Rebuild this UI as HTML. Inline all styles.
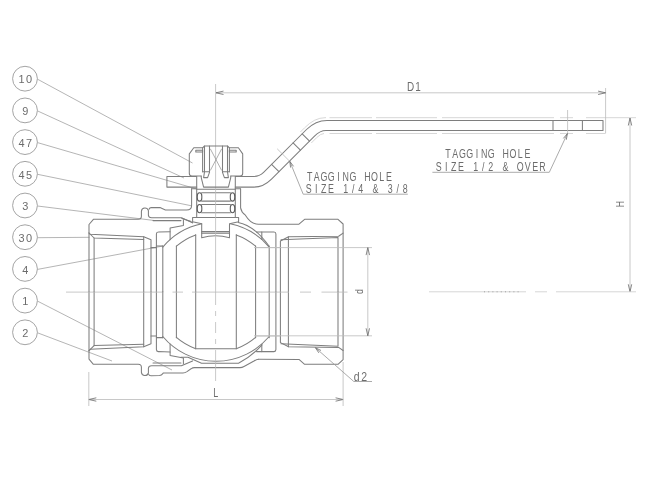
<!DOCTYPE html>
<html><head><meta charset="utf-8"><title>Ball valve drawing</title>
<style>
html,body{margin:0;padding:0;background:#fff;}
body{width:650px;height:485px;overflow:hidden;font-family:"Liberation Sans",sans-serif;}
svg{display:block;filter:grayscale(1);}
.m{fill:none;stroke:#7e7e7e;stroke-width:1.05;stroke-linejoin:round;stroke-linecap:round;}
.t{fill:none;stroke:#bababa;stroke-width:0.8;}
.f{fill:none;stroke:#d2d2d2;stroke-width:0.9;}
.a{fill:none;stroke:#6a6a6a;stroke-width:0.8;}
.d{fill:none;stroke:#7e7e7e;stroke-width:0.9;stroke-dasharray:2 1.2;}
.cl{fill:none;stroke:#a8a8a8;stroke-width:0.85;}
.l{fill:none;stroke:#9c9c9c;stroke-width:0.85;}
.t2{fill:none;stroke:#9a9a9a;stroke-width:0.8;}
.o{fill:none;stroke:#5e5e5e;stroke-width:1.1;}
.c{fill:none;stroke:#9a9a9a;stroke-width:0.9;}
.tx{fill:#6c6c6c;font-family:"Liberation Sans",sans-serif;}
</style></head><body>
<svg width="650" height="485" viewBox="0 0 650 485">
<rect width="650" height="485" fill="#fff"/>
<circle class="c" cx="25" cy="78.7" r="12.4"/>
<line class="cl" x1="37.5" y1="79.2" x2="192.5" y2="163"/>
<text class="tx" transform="translate(0 83.4) scale(0.96 1)" x="22.50 30.21" y="0" text-anchor="middle" font-size="11.4">10</text>
<circle class="c" cx="25" cy="110.4" r="12.4"/>
<line class="cl" x1="37.5" y1="110.9" x2="184" y2="178"/>
<text class="tx" transform="translate(0 115.1) scale(0.96 1)" x="26.35" y="0" text-anchor="middle" font-size="11.4">9</text>
<circle class="c" cx="25" cy="142.1" r="12.4"/>
<line class="cl" x1="37.5" y1="142.6" x2="196" y2="188.8"/>
<text class="tx" transform="translate(0 146.8) scale(0.96 1)" x="22.50 30.21" y="0" text-anchor="middle" font-size="11.4">47</text>
<circle class="c" cx="25" cy="173.8" r="12.4"/>
<line class="cl" x1="37.5" y1="174.3" x2="191" y2="205.7"/>
<text class="tx" transform="translate(0 178.5) scale(0.96 1)" x="22.50 30.21" y="0" text-anchor="middle" font-size="11.4">45</text>
<circle class="c" cx="25" cy="205.5" r="12.4"/>
<line class="cl" x1="37.5" y1="206.0" x2="155" y2="220.6"/>
<text class="tx" transform="translate(0 210.2) scale(0.96 1)" x="26.35" y="0" text-anchor="middle" font-size="11.4">3</text>
<circle class="c" cx="25" cy="237.2" r="12.4"/>
<line class="cl" x1="37.5" y1="237.7" x2="89.5" y2="237.3"/>
<text class="tx" transform="translate(0 241.9) scale(0.96 1)" x="22.50 30.21" y="0" text-anchor="middle" font-size="11.4">30</text>
<circle class="c" cx="25" cy="268.9" r="12.4"/>
<line class="cl" x1="37.5" y1="269.4" x2="163" y2="246"/>
<text class="tx" transform="translate(0 273.6) scale(0.96 1)" x="26.35" y="0" text-anchor="middle" font-size="11.4">4</text>
<circle class="c" cx="25" cy="300.6" r="12.4"/>
<line class="cl" x1="37.5" y1="301.1" x2="172" y2="370"/>
<text class="tx" transform="translate(0 305.3) scale(0.96 1)" x="26.35" y="0" text-anchor="middle" font-size="11.4">1</text>
<circle class="c" cx="25" cy="332.3" r="12.4"/>
<line class="cl" x1="37.5" y1="332.8" x2="112" y2="361"/>
<text class="tx" transform="translate(0 337.0) scale(0.96 1)" x="26.35" y="0" text-anchor="middle" font-size="11.4">2</text>
<path class="m" d="M89 291.8 L89 224.5 L93.4 219.3 L138.3 219.3 Q141.4 219.3 141.4 216.3 L141.4 211.2 A3.6 3.6 0 0 1 148.4 210.6 L148.4 215.3 Q148.6 217.8 151.6 217.8 L181.4 217.8 L192.6 222.7"/>
<path class="m" d="M89 291.8 L89 359.1 L93.4 364.3 L138.3 364.3 Q141.4 364.3 141.4 367.3 L141.4 372.4 A3.6 3.6 0 0 0 148.4 373.0 L148.4 368.3 Q148.6 365.8 151.6 365.8 L181.4 365.8 L192.6 360.9"/>
<path class="m" d="M149 209.2 Q149.6 207.6 151.2 207.6 L160 207.6 L165.4 209.9 L186.6 210.1 Q191.6 210.1 191.6 205.2 L191.6 188.8"/>
<path class="m" d="M148.6 374.2 Q149 375.8 151 375.8 L159.5 375.6 Q161.5 375.4 162.8 373.6 L163.4 372.9 L183 372.9 Q185 372.9 187 371.6 L191 368.8 Q192.6 367.6 194.6 367.6 L240 367.6 Q242 367.6 244 366.5 L254 361 Q256.5 359.4 258.4 359.3"/>
<path class="m" d="M153 220.6 L181 220.6"/>
<path class="m" d="M153 363.0 L181 363.0"/>
<path class="m" d="M183.4 219.8 L183.4 225.5 L170.1 228 L170.1 239.6"/>
<path class="m" d="M183.4 363.8 L183.4 358.1 L170.1 355.6 L170.1 344.0"/>
<path class="m" d="M170.1 231.7 L158.3 232 Q156.4 232 156.4 234 L156.4 291.8"/>
<path class="m" d="M170.1 351.9 L158.3 351.6 Q156.4 351.6 156.4 349.6 L156.4 291.8"/>
<path class="m" d="M89 233 L90.2 234.3 L143.7 236.8 L151 239.8 L151 291.8"/>
<path class="m" d="M89 350.6 L90.2 349.3 L143.7 346.8 L151 343.8 L151 291.8"/>
<path class="m" d="M89 233 L94.1 238 L143.7 239.4"/>
<path class="m" d="M89 350.6 L94.1 345.6 L143.7 344.2"/>
<path class="m" d="M94.1 291.8 L94.1 238"/>
<path class="m" d="M94.1 291.8 L94.1 345.6"/>
<path class="m" d="M143.7 291.8 L143.7 236.8"/>
<path class="m" d="M143.7 291.8 L143.7 346.8"/>
<path class="m" d="M151 247.6 L156.4 247.6"/>
<path class="m" d="M151 336.0 L156.4 336.0"/>
<path class="m" d="M156.4 246 L162.8 246"/>
<path class="m" d="M156.4 337.6 L162.8 337.6"/>
<path class="m" d="M162.8 291.8 L162.8 245.9"/>
<path class="m" d="M162.8 291.8 L162.8 337.7"/>
<path class="m" d="M176.4 291.8 L176.4 245.9"/>
<path class="m" d="M176.4 291.8 L176.4 337.7"/>
<path class="m" d="M195.7 291.8 L195.7 234.8"/>
<path class="m" d="M195.7 291.8 L195.7 348.8"/>
<path class="m" d="M236.3 291.8 L236.3 234.8"/>
<path class="m" d="M236.3 291.8 L236.3 348.8"/>
<path class="m" d="M255.6 291.8 L255.6 245.9"/>
<path class="m" d="M255.6 291.8 L255.6 337.7"/>
<path class="m" d="M269.2 291.8 L269.2 245.9"/>
<path class="m" d="M269.2 291.8 L269.2 337.7"/>
<path class="m" d="M275.9 291.8 L275.9 234 Q275.9 232 274 232 L256.5 232"/>
<path class="m" d="M275.9 291.8 L275.9 349.6 Q275.9 351.6 274 351.6 L256.5 351.6"/>
<path class="m" d="M162.8 247.08 A69.5 69.5 0 0 1 201.8 223.77"/>
<path class="m" d="M230.2 223.77 A69.5 69.5 0 0 1 269.2 247.08"/>
<path class="m" d="M162.8 336.52 A69.5 69.5 0 0 0 269.2 336.52"/>
<path class="m" d="M176.4 246.19 A60.4 60.4 0 0 1 195.7 234.91"/>
<path class="m" d="M236.3 234.91 A60.4 60.4 0 0 1 255.6 246.19"/>
<path class="m" d="M176.4 337.41 A60.4 60.4 0 0 0 195.7 348.69 L236.3 348.69 A60.4 60.4 0 0 0 255.6 337.41"/>
<path class="m" d="M238.2 222.4 Q254 225.3 268.8 245.8"/>
<path class="m" d="M181.9 218.2 L190.6 221.6 L192.6 222.7 M181.9 218.6 L190.6 221.2"/>
<path class="m" d="M181 357.2 L188 357.2 L201.5 363.2 L238.5 363.2 Q251 357 261.8 345.2"/>
<path class="m" d="M240.6 188.8 L240.6 207.8 Q241.3 212 245.4 215.2 Q251 224.3 258.4 224.3 L299 224.2 L304.6 219.3 L338 219.3 L343.1 224 L343.1 359.6 L338 364.3 L304.6 364.3 L299 359.4 L258.4 359.3"/>
<path class="m" d="M343.1 233.1 L338.6 236.2 L288.6 236.8 L280.4 241 L280.4 291.8"/>
<path class="m" d="M343.1 350.5 L338.6 347.4 L288.6 346.8 L280.4 342.6 L280.4 291.8"/>
<path class="m" d="M338 291.8 L338 237.4 L281 239.8"/>
<path class="m" d="M338 291.8 L338 346.2 L281 343.8"/>
<path class="m" d="M288.4 291.8 L288.4 236.8"/>
<path class="m" d="M288.4 291.8 L288.4 346.8"/>
<path class="m" d="M261.8 239.4 L261.8 232"/>
<path class="m" d="M261.8 344.2 L261.8 351.6"/>
<path class="t" d="M255 247.6 L280.4 247.6"/>
<path class="t" d="M255 336.0 L280.4 336.0"/>
<path class="m" d="M196.7 176.4 L196.7 217.4 M235.3 176.4 L235.3 217.4"/>
<line class="m" x1="196.7" y1="189.3" x2="235.3" y2="189.3"/>
<rect class="o" x="197.3" y="192.8" width="4.5" height="8.299999999999983" rx="2.2" ry="3.2"/>
<rect class="o" x="230.3" y="192.8" width="4.399999999999977" height="8.299999999999983" rx="2.2" ry="3.2"/>
<line class="m" x1="201.6" y1="192.8" x2="230.4" y2="192.8"/>
<line class="m" x1="201.6" y1="201.1" x2="230.4" y2="201.1"/>
<rect class="o" x="197.3" y="204.5" width="4.5" height="8.199999999999989" rx="2.2" ry="3.2"/>
<rect class="o" x="230.3" y="204.5" width="4.399999999999977" height="8.199999999999989" rx="2.2" ry="3.2"/>
<line class="m" x1="201.6" y1="204.5" x2="230.4" y2="204.5"/>
<line class="m" x1="201.6" y1="212.7" x2="230.4" y2="212.7"/>
<path class="m" d="M192.6 217.4 L238.6 217.4 L238.6 221.8 L229.5 223.8 L229.5 237.8 Q215.6 233.8 201.7 237.8 L201.7 223.8 L192.6 221.8 Z"/>
<line class="m" x1="201.7" y1="231.4" x2="229.5" y2="231.4"/>
<line class="m" x1="201.7" y1="233.1" x2="229.5" y2="233.1"/>
<path class="t" d="M215.6 84 V305 M215.6 311 V316 M215.6 322 V333 M215.6 339 V344 M215.6 350 V381"/>
<path class="m" d="M201.2 176 L192 176 Q189.3 176 189.3 173.3 L189.3 153.9 L193.8 147.8 L202.6 147.8 L204.5 146 L227.5 146 L229.4 147.8 L238.4 147.8 L242.7 153.9 L242.7 173.3 Q242.7 176 240 176 L230.8 176"/>
<line class="m" x1="202.6" y1="147.8" x2="202.6" y2="171.8"/>
<line class="m" x1="204.5" y1="146" x2="204.5" y2="171.8"/>
<line class="m" x1="209.5" y1="146" x2="209.5" y2="172.4"/>
<line class="m" x1="222.5" y1="146" x2="222.5" y2="172.4"/>
<line class="m" x1="227.5" y1="146" x2="227.5" y2="171.8"/>
<line class="m" x1="229.4" y1="147.8" x2="229.4" y2="171.8"/>
<line class="t2" x1="210.3" y1="148.8" x2="221.7" y2="170.5"/>
<line class="t2" x1="221.7" y1="148.8" x2="210.3" y2="170.5"/>
<rect class="m" x="195.8" y="150.2" width="6.8" height="1.8"/>
<rect class="m" x="229.4" y="150.2" width="6.8" height="1.8"/>
<path class="m" d="M202.6 171.8 H209.5 M204.5 171.8 L203.6 177.6 M209.5 172.4 L207.6 177.6 L203.6 177.6"/>
<path class="m" d="M229.4 171.8 H222.5 M227.5 171.8 L228.4 177.6 M222.5 172.4 L224.4 177.6 L228.4 177.6"/>
<path class="m" d="M201.2 176 L201.3 177.8 L203.6 187.1 L228.4 187.1 L230.7 177.8 L230.8 176"/>
<line class="m" x1="191.5" y1="188.7" x2="196.7" y2="188.7"/>
<line class="m" x1="235.3" y1="188.7" x2="240.5" y2="188.7"/>
<path class="m" d="M196.7 176.4 L166.9 176.4 L166.9 187.1 L196.7 187.1"/>
<path class="m" d="M235.3 176.4 L254 176.4 Q259.6 176.4 263.6 172.4 L306.5 129.5 Q315.6 120.4 327 120.4 L603 120.4 L603 130.5 L326 130.5 Q320.1 130.5 314.5 136.1 L271.5 179.1 Q263.5 187.1 254 187.1 L235.3 187.1"/>
<line class="m" x1="553" y1="120.4" x2="553" y2="130.5"/>
<line class="m" x1="582.4" y1="120.4" x2="582.4" y2="130.5"/>
<line class="m" x1="302.2" y1="133.8" x2="309.5" y2="141.1"/>
<line class="m" x1="293.1" y1="142.9" x2="300.4" y2="150.2"/>
<line class="m" x1="271.6" y1="164.4" x2="278.9" y2="171.7"/>
<line class="t" x1="277.2" y1="148.8" x2="289.6" y2="161.2"/>
<path class="f" d="M300.4 132 L304.6 127.8 Q314.6 117.7 325 117.7 L326 117.7 M329.5 117.7 L372 117.7 M376 117.7 L437 117.7 M442 117.7 L554 117.7 M560 117.7 L573 117.7 M586 117.7 L636 117.7"/>
<path class="f" d="M311.3 143 L316.6 137.7 Q320.8 133.5 324 133.5 M329.5 133.5 L372 133.5 M376 133.5 L437 133.5 M442 133.5 L554 133.5 M560 133.5 L573 133.5 M586 133.5 L605.6 133.5"/>
<line class="t" x1="567.6" y1="110" x2="567.6" y2="133.4"/>
<line class="t" x1="216" y1="92.8" x2="605.6" y2="92.8"/>
<line class="t" x1="605.6" y1="88" x2="605.6" y2="133.2"/>
<path class="a" d="M223.50 91.10 L216 92.8 L223.50 94.50"/>
<path class="a" d="M598.10 94.50 L605.6 92.8 L598.10 91.10"/>
<line class="t" x1="630" y1="118" x2="630" y2="291.8"/>
<path class="a" d="M631.70 125.50 L630 118 L628.30 125.50"/>
<path class="a" d="M628.30 284.30 L630 291.8 L631.70 284.30"/>
<path class="f" d="M429 291.8 L526 291.8 M535 291.8 L547 291.8 M556 291.8 L636 291.8"/>
<line x1="484" y1="291.8" x2="520" y2="291.8" stroke="#9a9a9a" stroke-width="0.9" stroke-dasharray="1 3.2"/>
<line class="t" x1="254" y1="247.6" x2="372" y2="247.6"/>
<line class="t" x1="254" y1="335.8" x2="372" y2="335.8"/>
<line class="t" x1="367.8" y1="247.6" x2="367.8" y2="335.8"/>
<path class="a" d="M369.50 255.10 L367.8 247.6 L366.10 255.10"/>
<path class="a" d="M366.10 328.30 L367.8 335.8 L369.50 328.30"/>
<line class="t" x1="88.8" y1="399.5" x2="343.1" y2="399.5"/>
<path class="a" d="M96.30 397.80 L88.8 399.5 L96.30 401.20"/>
<path class="a" d="M335.60 401.20 L343.1 399.5 L335.60 397.80"/>
<line class="t" x1="88.8" y1="372" x2="88.8" y2="406"/>
<line class="t" x1="343.1" y1="362" x2="343.1" y2="406"/>
<path class="t" d="M66 292.1 H162 M172.5 292.1 H183 M192 292.1 H289 M300 292.1 H311 M321.5 292.1 H347.5"/>
<line class="l" x1="315.4" y1="347.7" x2="353.8" y2="381.5"/>
<line class="l" x1="353.8" y1="381.5" x2="372" y2="381.5"/>
<path class="a" d="M320.96 350.46 L315.4 347.7 L318.85 352.87"/>
<path class="l" d="M407.8 194.2 L303.2 194.2 L289.8 161.4"/>
<path class="a" d="M293.55 166.35 L289.8 161.4 L290.59 167.56"/>
<path class="l" d="M432.4 172.3 L549.3 172.3 L567.4 133.6"/>
<path class="a" d="M566.31 139.71 L567.4 133.6 L563.41 138.36"/>
<text class="tx" transform="translate(0 157.8) scale(0.74 1)" x="605.41 615.16 624.92 634.68 644.43 654.19 663.95 673.70 683.46 693.22 702.97 712.73" y="0" text-anchor="middle" font-size="12.0">TAGGING HOLE</text>
<text class="tx" transform="translate(0 170.7) scale(0.74 1)" x="592.97 602.99 613.00 623.01 633.03 643.04 653.05 663.07 673.08 683.09 693.11 703.12 713.14 723.15 733.16" y="0" text-anchor="middle" font-size="12.0">SIZE 1/2 &amp; OVER</text>
<text class="tx" transform="translate(0 180.9) scale(0.74 1)" x="418.38 428.14 437.89 447.65 457.41 467.16 476.92 486.68 496.43 506.19 515.95 525.70" y="0" text-anchor="middle" font-size="12.0">TAGGING HOLE</text>
<text class="tx" transform="translate(0 193.0) scale(0.74 1)" x="417.30 427.31 437.32 447.34 457.35 467.36 477.38 487.39 497.41 507.42 517.43 527.45 537.46 547.47" y="0" text-anchor="middle" font-size="12.0">SIZE 1/4 &amp; 3/8</text>
<text class="tx" transform="translate(410.6 91) scale(0.8 1)" text-anchor="middle" font-size="12.4">D</text>
<text class="tx" transform="translate(418.0 91) scale(0.8 1)" text-anchor="middle" font-size="12.4">1</text>
<text class="tx" transform="translate(215.8 396.8) scale(0.72 1)" text-anchor="middle" font-size="12.4">L</text>
<text class="tx" transform="translate(356.6 381.3) scale(0.86 1)" text-anchor="middle" font-size="12.2">d</text>
<text class="tx" transform="translate(364.2 381.3) scale(0.86 1)" text-anchor="middle" font-size="12.2">2</text>
<text class="tx" transform="translate(623.9 204.3) rotate(-90) scale(0.8 1)" text-anchor="middle" font-size="10.6">H</text>
<text class="tx" transform="translate(362.8 291.6) rotate(-90) scale(0.8 1)" text-anchor="middle" font-size="11">d</text>
</svg>
</body></html>
